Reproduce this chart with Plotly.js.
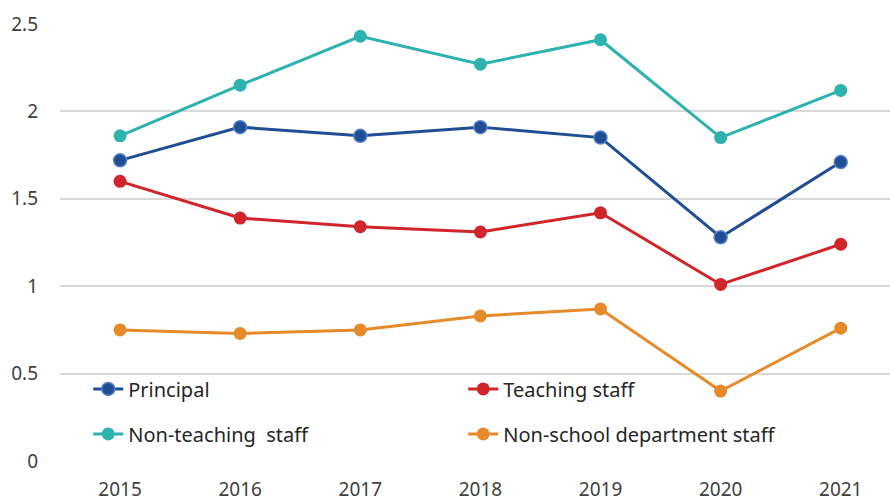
<!DOCTYPE html>
<html><head><meta charset="utf-8">
<script src="https://cdn.plot.ly/plotly-3.0.1.min.js"></script>
<style>html,body{margin:0;padding:0;background:#fff}#chart{width:890px;height:502px}</style>
</head><body><div id="chart"></div>
<script>
const years = ['2015','2016','2017','2018','2019','2020','2021'];
const principal = [1.72, 1.91, 1.86, 1.91, 1.85, 1.28, 1.71];
const teaching = [1.60, 1.39, 1.34, 1.31, 1.42, 1.01, 1.24];
const nonTeaching = [1.86, 2.15, 2.43, 2.27, 2.41, 1.85, 2.12];
const nonSchool = [0.75, 0.73, 0.75, 0.83, 0.87, 0.40, 0.76];
const yTicks = [0, 0.5, 1, 1.5, 2, 2.5];
const yTickText = ['0', '0.5', '1', '1.5', '2', '2.5'];

function tr(name, y, color, outline, legend) {
  return {
    x: years, y: y, name: name, type: 'scatter', mode: 'lines+markers',
    line: {color: color, width: 3},
    marker: {color: color, size: 13, line: {color: outline, width: outline === color ? 0 : 1.5}},
    legend: legend, hoverinfo: 'x+y+name'
  };
}
const data = [
  tr('Principal', principal, '#1F4E94', '#5A80CC', 'legend'),
  tr('Teaching staff', teaching, '#D0252B', '#D0252B', 'legend'),
  tr('Non-teaching  staff', nonTeaching, '#2EB2AF', '#2EB2AF', 'legend2'),
  tr('Non-school department staff', nonSchool, '#E68A2A', '#E68A2A', 'legend2')
];
const fontFam = '"Noto Sans", "Open Sans", sans-serif';
const legendCommon = {
  orientation: 'h', xanchor: 'left', yanchor: 'middle',
  entrywidth: 330, entrywidthmode: 'pixels',
  font: {family: fontFam, size: 20, color: '#262626'},
  bgcolor: 'rgba(255,255,255,0)', traceorder: 'normal'
};
const layout = {
  width: 890, height: 502,
  margin: {l: 60, r: 0, t: 24, b: 41},
  paper_bgcolor: '#fff', plot_bgcolor: '#fff',
  font: {family: fontFam, size: 19, color: '#404040'},
  showlegend: true,
  xaxis: {
    type: 'category', range: [-0.5, 6.41], showgrid: false, zeroline: false,
    showline: false, ticks: '', ticklabelstandoff: 15,
    tickfont: {family: fontFam, size: 19, color: '#404040'}
  },
  yaxis: {
    range: [0, 2.5], tickvals: yTicks, ticktext: yTickText,
    showgrid: true, gridcolor: '#D9D9D9', gridwidth: 1.5,
    zeroline: false, showline: false, ticks: '', ticklabelstandoff: 21,
    tickfont: {family: fontFam, size: 19, color: '#404040'}
  },
  legend: Object.assign({}, legendCommon, {x: 0.034, y: 0.165}),
  legend2: Object.assign({}, legendCommon, {x: 0.034, y: 0.062})
};
Plotly.newPlot('chart', data, layout, {displayModeBar: false, responsive: false});
</script></body></html>
